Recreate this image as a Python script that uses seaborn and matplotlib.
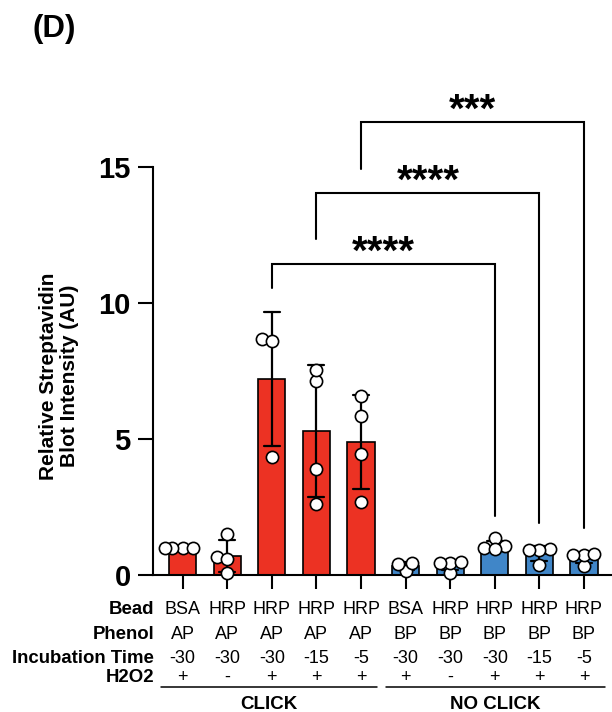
import numpy as np
import pandas as pd
import matplotlib
matplotlib.use("Agg")
import matplotlib.pyplot as plt
import matplotlib.transforms as mtransforms
import seaborn as sns

# ---------------- data ----------------
groups = ["G1", "G2", "G3", "G4", "G5", "G6", "G7", "G8", "G9", "G10"]
g1 = [1.0, 1.0, 1.0, 1.0]
g2 = [1.5, 0.67, 0.6, 0.06]
g3 = [8.69, 8.59, 4.35]
g4 = [7.14, 7.52, 3.90, 2.60]
g5 = [6.59, 5.85, 4.44, 2.68]
g6 = [0.15, 0.45, 0.40]
g7 = [0.08, 0.45, 0.45, 0.47]
g8 = [1.35, 0.98, 1.05, 0.95]
g9 = [0.94, 0.92, 0.92, 0.37]
g10 = [0.33, 0.74, 0.74, 0.77]
all_values = [g1, g2, g3, g4, g5, g6, g7, g8, g9, g10]

bead = ["BSA", "HRP", "HRP", "HRP", "HRP", "BSA", "HRP", "HRP", "HRP", "HRP"]
phenol = ["AP", "AP", "AP", "AP", "AP", "BP", "BP", "BP", "BP", "BP"]
incubation = ["-30", "-30", "-30", "-15", "-5", "-30", "-30", "-30", "-15", "-5"]
h2o2 = ["+", "-", "+", "+", "+", "+", "-", "+", "+", "+"]
row_names = ["Bead", "Phenol", "Incubation Time", "H2O2"]
condition_groups = ["CLICK", "NO CLICK"]

# significance comparisons (group index pairs), labels, bracket levels
comp_left = [2, 3, 4]
comp_right = [7, 8, 9]
comp_labels = ["****", "****", "***"]
bracket_top = [11.45, 14.06, 16.67]
bracket_left_end = [10.54, 12.34, 14.92]
bracket_right_end = [2.17, 1.90, 1.72]

yticks = [0, 5, 10, 15]
ylabel = "Relative Streptavidin\nBlot Intensity (AU)"
panel_label = "(D)"

# ---------------- build frame ----------------
rows = []
for g, vals in zip(groups, all_values):
    for v in vals:
        rows.append({"group": g, "value": v})
df = pd.DataFrame(rows)

red = "#EC3223"
blue = "#4086C8"
palette = {g: (red if i < 5 else blue) for i, g in enumerate(groups)}

sns.set_style("ticks")
plt.rcParams["font.family"] = ["Liberation Sans", "DejaVu Sans"]
plt.rcParams["text.color"] = "black"
plt.rcParams["axes.labelcolor"] = "black"
plt.rcParams["xtick.color"] = "black"
plt.rcParams["ytick.color"] = "black"
plt.rcParams["axes.edgecolor"] = "black"

W, H = 612, 712
fig = plt.figure(figsize=(W / 100, H / 100), dpi=100)

ax_left = 153 / W
ax_bottom = (H - 575) / H
ax_h = 18 * 27.2 / H
ax = fig.add_axes([ax_left, ax_bottom, 1 - ax_left, ax_h])

sns.barplot(data=df, x="group", y="value", hue="group", palette=palette,
            order=groups, hue_order=groups, legend=False, saturation=1,
            errorbar="sd", capsize=0.36, width=0.61,
            err_kws={"color": "black", "linewidth": 1.6},
            edgecolor="black", linewidth=1.2, ax=ax)

ax.set_xlim(-0.666, 9.63)
ax.set_ylim(0, 18)

n_before = len(ax.collections)
marker_pt = 8.8
sns.swarmplot(data=df, x="group", y="value", order=groups, color="white",
              edgecolor="black", linewidth=1.2, size=6.0, ax=ax)
ax.set_xlim(-0.666, 9.63)
ax.set_ylim(0, 18)
# compute the swarm arrangement with a compact spacing, then freeze it
fig.canvas.draw()
for coll in ax.collections[n_before:]:
    if "draw" in coll.__dict__:
        del coll.__dict__["draw"]
    coll.set_sizes([marker_pt ** 2])
    coll.set_zorder(4)
    coll.set_clip_on(False)
for ln in ax.lines:
    ln.set_zorder(3)

ax.set_yticks(yticks)
ax.set_yticklabels([str(t) for t in yticks], fontsize=21, fontweight="bold")
ax.set_xticks(range(len(groups)))
ax.set_xticklabels([""] * len(groups))
ax.set_xlabel("")
ax.set_ylabel("")
sns.despine(ax=ax, top=True, right=True)
ax.spines["left"].set_bounds(0, 15)
ax.spines["left"].set_linewidth(1.5)
ax.spines["bottom"].set_linewidth(1.5)
ax.tick_params(axis="y", length=11, width=1.5, pad=5, color="black")
ax.tick_params(axis="x", length=10, width=1.5, color="black")
ax.patch.set_alpha(0)

# significance brackets
for l, r, lab, top, le, re in zip(comp_left, comp_right, comp_labels,
                                   bracket_top, bracket_left_end, bracket_right_end):
    ax.plot([l, l, r, r], [le, top, top, re], color="black", lw=1.5,
            clip_on=False, zorder=5, solid_joinstyle="miter")
    ax.text((l + r) / 2, top, lab, ha="center", va="baseline",
            fontsize=29, fontweight="bold", clip_on=False)

# ylabel
fig.text(59 / W, (H - 376) / H, ylabel, rotation=90, ha="center", va="center",
         multialignment="center", fontsize=15, fontweight="bold",
         linespacing=1.1)

# panel label
fig.text(33 / W, (H - 37) / H, panel_label, ha="left", va="baseline",
         fontsize=22.5, fontweight="bold")

# table beneath axis
trans = mtransforms.blended_transform_factory(ax.transData, fig.transFigure)
row_baselines = [614, 639.3, 662.7, 681.7]
row_values = [bead, phenol, incubation, h2o2]
for name, yb, vals in zip(row_names, row_baselines, row_values):
    fig.text(154 / W, (H - yb) / H, name, ha="right", va="baseline",
             fontsize=13.4, fontweight="bold")
    for i, v in enumerate(vals):
        ax.text(i, (H - yb) / H, v, transform=trans, ha="center", va="baseline",
                fontsize=13, clip_on=False)

# group underlines and labels
spans = [(-0.49, 4.36), (4.56, 9.47)]
for (x0, x1), lab in zip(spans, condition_groups):
    ax.plot([x0, x1], [(H - 686.7) / H] * 2, transform=trans, color="black",
            lw=1.1, clip_on=False)
    ax.text((x0 + x1) / 2, (H - 709) / H, lab, transform=trans, ha="center",
            va="baseline", fontsize=13.5, fontweight="bold", clip_on=False)

fig.savefig("out.png", dpi=100)
